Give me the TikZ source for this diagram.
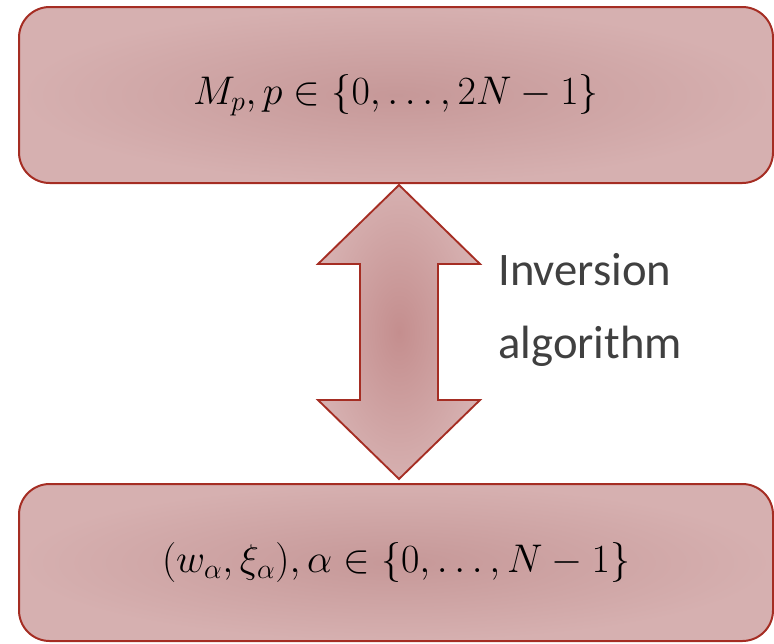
\RequirePackage{fix-cm}
\documentclass[tikz,border=0pt]{standalone}
\usepackage{fontspec}
\newfontfamily\labelfont{Carlito}
\usepackage{tikz}
\usetikzlibrary{positioning, calc}
\definecolor{myborder}{RGB}{165,45,35}
\definecolor{myfillin}{RGB}{198,152,152}
\definecolor{myfillout}{RGB}{214,176,176}
\definecolor{myarrowin}{RGB}{196,142,142}
\definecolor{mytext}{RGB}{64,64,64}
\tikzset{
  box/.style={rectangle, draw=myborder, line width=1.5pt,
    rounded corners=23pt, inner color=myfillin, outer color=myfillout,
    minimum width=565.5pt, font=\fontsize{30}{36}\selectfont},
  bigarrow/.style={draw=myborder, line width=1.4pt, line join=miter,
    inner color=myarrowin, outer color=myfillout},
  lbl/.style={align=left, text=mytext, inner sep=0pt,
    font=\labelfont\fontsize{35}{54.75}\selectfont}
}
\begin{document}
\begin{tikzpicture}[x=0.75pt, y=-0.75pt]
  \useasboundingbox (0,0) rectangle (774,643);

  % Boxes
  \node[box, minimum height=132pt] (moments) at (396,95)
    {$M_p, p \in \{0, \ldots, 2N-1\}$};
  \node[box, minimum height=117.75pt] (weights) at (396,562.5)
    {$(w_\alpha, \xi_\alpha), \alpha \in \{0, \ldots, N-1\}$};

  % Double arrow
  \coordinate (tipA) at ($(moments.south)+(3,1)$);
  \coordinate (tipB) at ($(weights.north)+(3,-4)$);
  \draw[bigarrow] (tipA) -- ++(81,79) -- ++(-42,0) -- ++(0,136) -- ++(42,0)
    -- (tipB) -- ++(-81,-79) -- ++(42,0) -- ++(0,-136) -- ++(-42,0) -- cycle;

  \node[lbl, anchor=base west] (inv) at (498,358) {Inversion\\algorithm};
\end{tikzpicture}
\end{document}
